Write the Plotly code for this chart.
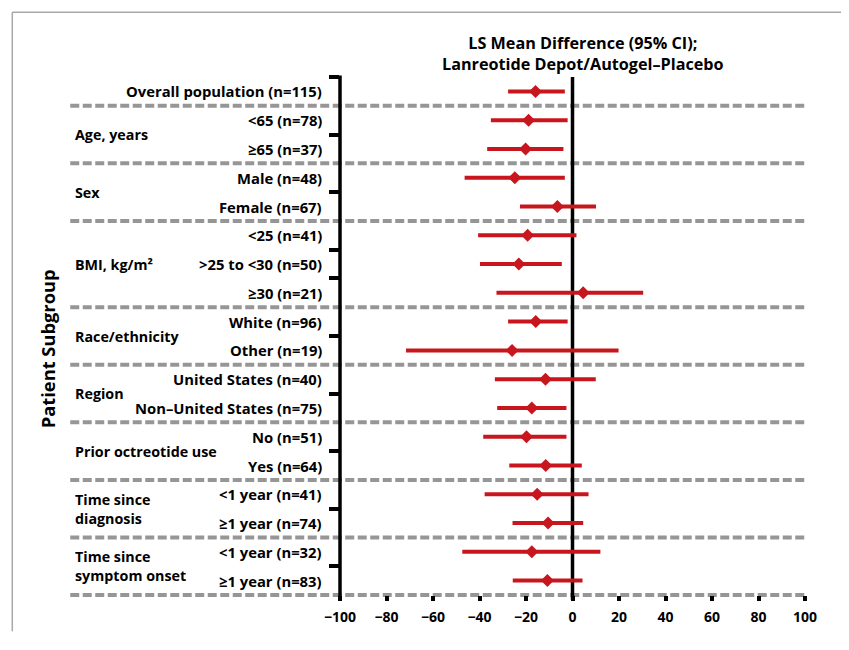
import plotly.graph_objects as go

# ---------------- data ----------------
row_labels = [
    "Overall population (n=115)",
    "<65 (n=78)", "≥65 (n=37)",
    "Male (n=48)", "Female (n=67)",
    "<25 (n=41)", ">25 to <30 (n=50)", "≥30 (n=21)",
    "White (n=96)", "Other (n=19)",
    "United States (n=40)", "Non–United States (n=75)",
    "No (n=51)", "Yes (n=64)",
    "<1 year (n=41)", "≥1 year (n=74)",
    "<1 year (n=32)", "≥1 year (n=83)",
]
ls_mean = [-15.9, -18.9, -20.2, -24.8, -6.5, -19.3, -23.1, 4.6, -15.8, -26.0,
           -11.6, -17.5, -19.8, -11.5, -15.2, -10.5, -17.5, -10.8]
ci_low = [-27.7, -35.1, -36.7, -46.4, -22.6, -40.6, -39.8, -32.7, -27.7, -71.6,
          -33.4, -32.4, -38.4, -27.2, -37.8, -25.8, -47.4, -25.7]
ci_high = [-3.3, -2.1, -3.9, -3.3, 10.1, 1.7, -4.6, 30.4, -2.1, 19.8,
           10.0, -2.6, -2.6, 4.0, 6.9, 4.6, 12.0, 4.3]

group_names = ["Age, years", "Sex", "BMI, kg/m²", "Race/ethnicity", "Region",
               "Prior octreotide use", "Time since<br>diagnosis", "Time since<br>symptom onset"]
group_sizes = [2, 2, 3, 2, 2, 2, 2, 2]   # rows per group (after the overall row)

x_ticks = [-100, -80, -60, -40, -20, 0, 20, 40, 60, 80, 100]
x_tick_text = ["−100", "−80", "−60", "−40", "−20", "0", "20", "40", "60", "80", "100"]

title_text = "LS Mean Difference (95% CI);<br>Lanreotide Depot/Autogel–Placebo"
y_title = "Patient Subgroup"

# ---------------- layout geometry ----------------
OFF = 8                      # page (body) offset of the plot div
W, H = 836, 630
L, T = 332, 68.5
PW, PH = 465.4, 524.8
R, B = W - L - PW, H - T - PH
n_rows = len(row_labels)

def px_x(px):               # page pixel -> paper x
    return (px - OFF - L) / PW

def px_y(py):               # page pixel -> paper y
    return 1 - (py - OFF - T) / PH

def row_y(r):               # row units -> paper y
    return 1 - (r + 0.5) / n_rows

RED = "#c8161e"
GREY = "#969696"
FONT = "Open Sans"

y_idx = list(range(n_rows))

fig = go.Figure()
fig.add_trace(go.Scatter(
    x=ls_mean, y=y_idx, mode="markers",
    marker=dict(symbol="diamond", size=10, color=RED, line=dict(width=0)),
    error_x=dict(type="data", symmetric=False,
                 array=[h - m for h, m in zip(ci_high, ls_mean)],
                 arrayminus=[m - l for m, l in zip(ls_mean, ci_low)],
                 color=RED, thickness=4, width=0),
    showlegend=False, hoverinfo="skip",
))

# group boundaries (in row units)
seps = []
ticks_b = [-0.5]
r = 1
for gsz in group_sizes:
    for k in range(1, gsz):
        ticks_b.append(r + k - 0.5)
    seps.append(r - 0.5)
    r += gsz
seps.append(r - 0.5)

# invisible trace for the tick-carrying overlay axis
fig.add_trace(go.Scatter(x=[None], y=[None], yaxis="y2", showlegend=False, hoverinfo="skip"))

shapes = []
# frame lines (kept inside the figure)
shapes.append(dict(type="line", xref="paper", yref="paper", x0=px_x(12), x1=px_x(OFF + W),
                   y0=px_y(11), y1=px_y(11), line=dict(color="#a8a8a8", width=1.5), layer="below"))
shapes.append(dict(type="line", xref="paper", yref="paper", x0=px_x(12), x1=px_x(12),
                   y0=px_y(11), y1=px_y(OFF + H), line=dict(color="#a8a8a8", width=1.5), layer="below"))
# dashed separators
for s in seps:
    shapes.append(dict(type="line", xref="paper", yref="paper", x0=px_x(70), x1=1.0,
                       y0=row_y(s), y1=row_y(s),
                       line=dict(color=GREY, width=4, dash="9px,3.5px"), layer="below"))
# zero line and left axis line
shapes.append(dict(type="line", xref="paper", yref="paper", x0=0.5, x1=0.5,
                   y0=px_y(606), y1=1.0, line=dict(color="black", width=3.5), layer="below"))
shapes.append(dict(type="line", xref="paper", yref="paper", x0=0, x1=0,
                   y0=px_y(606), y1=1.0 + 1.5 / PH, line=dict(color="black", width=3.5), layer="above"))

annotations = []
row_font = dict(family=FONT, size=14.8, color="black", weight="bold")
grp_font = dict(family=FONT, size=14.3, color="black", weight="bold")
for i, lab in enumerate(row_labels):
    annotations.append(dict(text=lab, xref="paper", yref="paper", x=px_x(324), y=row_y(i),
                            xanchor="right", yanchor="middle", showarrow=False, font=row_font))
r = 1
for name, gsz in zip(group_names, group_sizes):
    center = r + (gsz - 1) / 2
    annotations.append(dict(text=name, xref="paper", yref="paper", x=px_x(73), y=row_y(center),
                            xanchor="left", yanchor="middle", align="left", showarrow=False,
                            font=grp_font))
    r += gsz
annotations.append(dict(text=title_text, xref="paper", yref="paper", x=px_x(583), y=px_y(52.5),
                        xanchor="center", yanchor="middle", align="center", showarrow=False,
                        font=dict(family=FONT, size=16.2, color="black", weight="bold")))
annotations.append(dict(text=y_title, xref="paper", yref="paper", x=px_x(48), y=px_y(352),
                        xanchor="center", yanchor="middle", textangle=-90, showarrow=False,
                        font=dict(family=FONT, size=18.3, color="black", weight="bold")))

fig.update_layout(
    width=W, height=H,
    margin=dict(l=L, r=R, t=T, b=B, pad=0),
    paper_bgcolor="white", plot_bgcolor="white",
    xaxis=dict(range=[-100, 100], tickvals=x_ticks, ticktext=x_tick_text,
               showgrid=False, zeroline=False, showline=False,
               ticks="outside", ticklen=5, tickwidth=4, tickcolor="black",
               ticklabelstandoff=4,
               tickfont=dict(family=FONT, size=14, color="black", weight="bold"),
               fixedrange=True),
    yaxis=dict(range=[n_rows - 0.5, -0.5], showgrid=False, zeroline=False,
               showticklabels=False, ticks="", showline=False, fixedrange=True),
    yaxis2=dict(range=[n_rows - 0.5, -0.5], overlaying="y", side="left", anchor="x",
                tickvals=ticks_b, showticklabels=False, ticks="outside", ticklen=10,
                tickwidth=3.5, tickcolor="black", showgrid=False, zeroline=False,
                showline=False, fixedrange=True),
    shapes=shapes, annotations=annotations,
    showlegend=False,
)

fig.write_html("out.html")
